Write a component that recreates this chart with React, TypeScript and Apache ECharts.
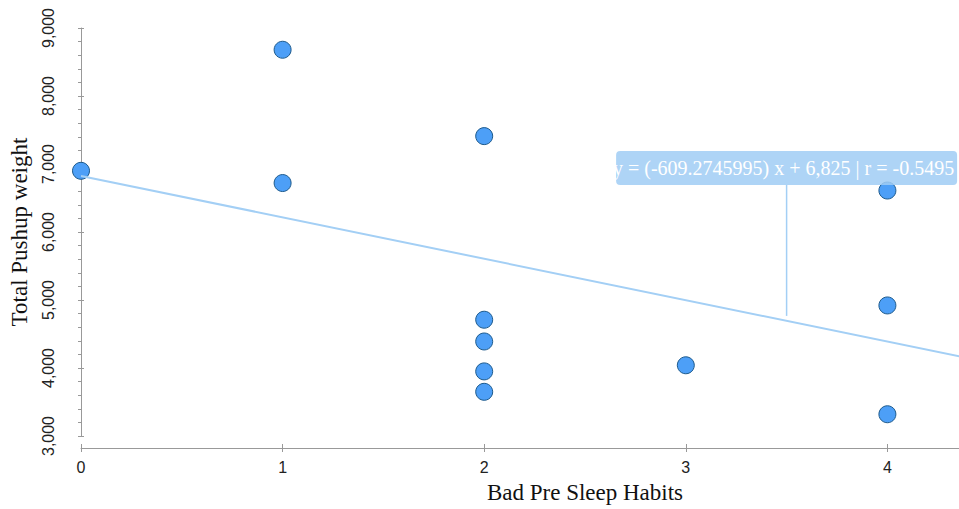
import React, { useEffect, useRef } from "react";
import * as echarts from "echarts";

const xValues = [0, 1, 1, 2, 2, 2, 2, 2, 3, 4, 4, 4];
const yValues = [6900, 8680, 6720, 7410, 4710, 4390, 3950, 3650, 4040, 6610, 4920, 3320];
const slope = -609.2745995;
const intercept = 6825;
const rValue = -0.5495;
const annotationX = 3.5;
const xMin = 0;
const xMax = 5;
const yMin = 3000;
const yMax = 9000;
const xTitle = "Bad Pre Sleep Habits";
const yTitle = "Total Pushup weight";

const fmt = (v: number) => v.toLocaleString("en-US");

export default function App() {
  const ref = useRef<HTMLDivElement>(null);
  useEffect(() => {
    if (!ref.current) return;
    const chart = echarts.init(ref.current, null, { renderer: "svg" });
    const axisColor = "#999";
    const labelFont = { fontFamily: "Liberation Sans", fontSize: 16, color: "#222" };
    const nameFont = { fontFamily: "Liberation Serif", fontSize: 23, color: "#111" };
    const points = xValues.map((x, i) => [x, yValues[i]]);
    const lineData = [
      [xMin, intercept + slope * xMin],
      [xMax, intercept + slope * xMax],
    ];
    chart.setOption({
      animation: false,
      grid: { left: 81, top: 28, width: 1008, height: 409 },
      xAxis: [
        {
          type: "value",
          min: xMin,
          max: xMax,
          interval: 1,
          offset: 12,
          name: xTitle,
          nameLocation: "middle",
          nameGap: 33,
          nameTextStyle: nameFont,
          axisLine: { show: true, lineStyle: { color: axisColor } },
          axisTick: { show: true, length: 4, lineStyle: { color: axisColor } },
          axisLabel: { ...labelFont, margin: 11, formatter: (v: number) => (v >= xMax ? "" : String(v)) },
          splitLine: { show: false },
        },
        {
          type: "value",
          position: "bottom",
          min: xMin,
          max: xMax,
          interval: 1,
          offset: 12,
          axisLine: { show: false },
          axisTick: { show: true, inside: true, length: 4, lineStyle: { color: axisColor } },
          axisLabel: { show: false },
          splitLine: { show: false },
        },
      ],
      yAxis: [
        {
          type: "value",
          min: yMin,
          max: yMax,
          interval: 1000,
          offset: 15,
          name: yTitle,
          nameLocation: "middle",
          nameRotate: 90,
          nameGap: 35,
          nameTextStyle: nameFont,
          axisLine: { show: true, lineStyle: { color: axisColor } },
          axisTick: { show: true, length: 3, lineStyle: { color: axisColor } },
          minorTick: { show: true, splitNumber: 5, length: 3, lineStyle: { color: axisColor } },
          axisLabel: { ...labelFont, rotate: 90, margin: 10, formatter: (v: number) => fmt(v) },
          splitLine: { show: false },
        },
        {
          type: "value",
          position: "left",
          min: yMin,
          max: yMax,
          interval: 1000,
          offset: 15,
          axisLine: { show: false },
          axisTick: { show: true, inside: true, length: 3, lineStyle: { color: axisColor } },
          axisLabel: { show: false },
          splitLine: { show: false },
        },
      ],
      series: [
        {
          type: "scatter",
          data: points,
          symbol: "circle",
          symbolSize: 17,
          z: 2,
          itemStyle: { color: "#4d9ff7", borderColor: "#1d5a8c", borderWidth: 1, opacity: 1 },
          emphasis: { disabled: true },
        },
        {
          type: "line",
          data: lineData,
          symbol: "none",
          z: 3,
          lineStyle: { color: "#a3cff5", width: 2 },
          emphasis: { disabled: true },
        },
      ],
    });
    const yAt = intercept + slope * annotationX;
    const p = chart.convertToPixel({ gridIndex: 0 }, [annotationX, yAt]) as number[];
    const boxW = 341;
    const boxH = 34;
    const boxBottom = p[1] - 136;
    const label = `y = (${slope}) x + ${fmt(intercept)} | r = ${rValue}`;
    chart.setOption({
      graphic: [
        {
          type: "line",
          z: 10,
          shape: { x1: p[0], y1: p[1] - 5, x2: p[0], y2: boxBottom },
          style: { stroke: "#a3cff5", lineWidth: 1.5 },
          silent: true,
        },
        {
          type: "rect",
          z: 11,
          shape: { x: p[0] - boxW / 2, y: boxBottom - boxH, width: boxW, height: boxH, r: 4 },
          style: { fill: "rgba(160,205,245,0.85)" },
          silent: true,
        },
        {
          type: "text",
          z: 12,
          x: p[0] - 3,
          y: boxBottom - boxH / 2,
          style: {
            text: label,
            fill: "#ffffff",
            font: "20px 'Liberation Serif'",
            align: "center",
            verticalAlign: "middle",
          },
          silent: true,
        },
      ],
    });
    return () => chart.dispose();
  }, []);
  return (
    <div style={{ position: "fixed", left: 0, top: 0, width: 959, height: 509, overflow: "hidden", background: "#fff" }}>
      <div ref={ref} style={{ width: 1150, height: 509 }} />
    </div>
  );
}
